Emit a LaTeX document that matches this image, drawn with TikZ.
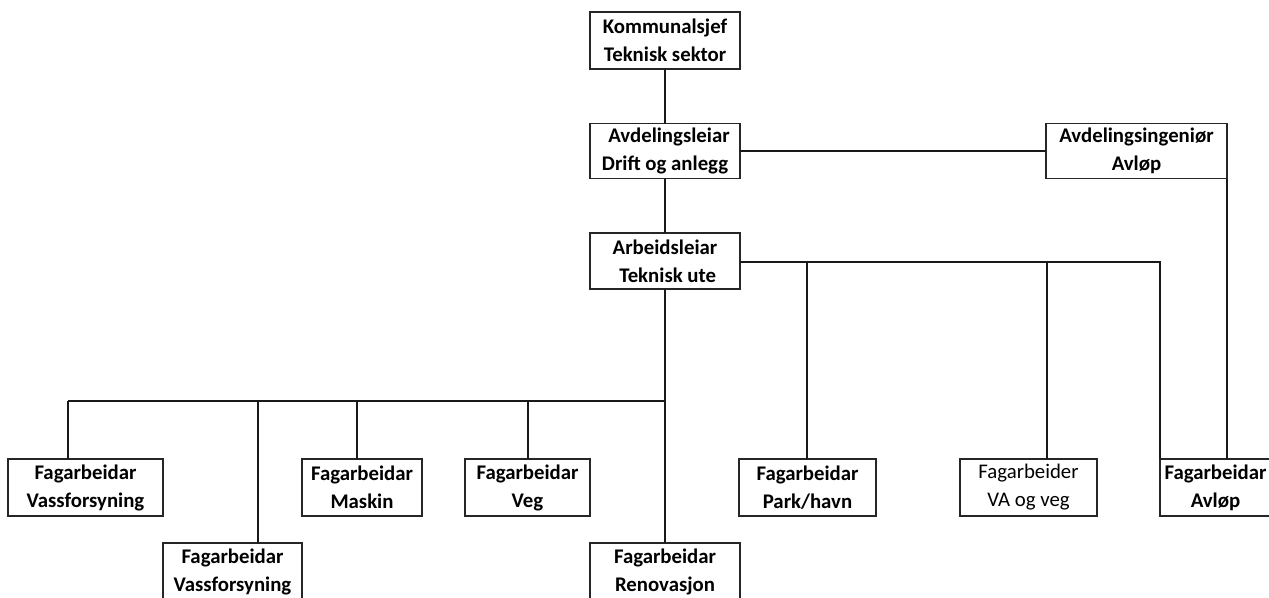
\documentclass[tikz,border=0pt]{standalone}
\usepackage{fontspec}
\setmainfont{Carlito}
\begin{document}
\begin{tikzpicture}[x=0.75pt,y=-0.75pt,
  box/.style={draw=black!85,line width=1pt,rectangle,inner sep=0pt,outer sep=0pt,align=center,
    font=\fontsize{15.6}{21}\selectfont\bfseries,text=black},
  conn/.style={draw=black!90,line width=0.8pt}]
\useasboundingbox (0,0) rectangle (1269,597);
\clip (0,0) rectangle (1269,597);
% top chain
\node[box,minimum width=112.5pt,minimum height=42.75pt] (kom) at (665,40.5) {Kommunalsjef\\Teknisk sektor};
\node[box,minimum width=112.5pt,minimum height=41.25pt] (avd) at (665,151) {\hspace*{6pt}Avdelingsleiar\\Drift og anlegg};
\node[box,minimum width=112.5pt,minimum height=42pt] (arb) at (665,261) {Arbeidsleiar\\\hspace*{4pt}Teknisk ute};
\node[box,minimum width=135.75pt,minimum height=41.25pt] (ing) at (1136.5,151) {Avdelingsingeniør\\Avløp};
% bottom row
\node[box,minimum width=116.25pt,minimum height=42.75pt] (v1) at (85.5,487.5) {Fagarbeidar\\Vassforsyning};
\node[box,minimum width=104.25pt,minimum height=42.75pt] (v2) at (232.5,571.5) {Fagarbeidar\\Vassforsyning};
\node[box,minimum width=90pt,minimum height=42.75pt] (mask) at (362,487.5) {Fagarbeidar\\Maskin};
\node[box,minimum width=93.75pt,minimum height=42.75pt] (veg) at (527.5,487.5) {Fagarbeidar\\Veg};
\node[box,minimum width=112.5pt,minimum height=42.75pt] (ren) at (665,571.5) {Fagarbeidar\\Renovasjon};
\node[box,minimum width=102.75pt,minimum height=42.75pt] (park) at (807.5,487.5) {Fagarbeidar\\Park/havn};
\node[box,minimum width=102.75pt,minimum height=42.75pt,font=\fontsize{15.6}{21}\selectfont] (va) at (1028.5,487.5) {Fagarbeider\\VA og veg};
\node[box,minimum width=83.25pt,minimum height=42.75pt] (avl) at (1215.5,487.5) {Fagarbeidar\\Avløp};
% connectors
\draw[conn] (kom.south) -- (avd.north);
\draw[conn] (avd.south) -- (arb.north);
\draw[conn] (avd.east) -- (ing.west);
\draw[conn] (ing.south east) -- (ing.south east |- avl.north);
% right branch
\coordinate (r0) at (1160,262);
\coordinate (rp) at (807,262);
\coordinate (rv) at (1047,262);
\draw[conn] (arb.east |- r0) -- (r0) -- (r0 |- avl.north);
\draw[conn] (rp) -- (rp |- park.north);
\draw[conn] (rv) -- (rv |- va.north);
% left branch
\draw[conn] (arb.south) -- (ren.north);
\coordinate (b0) at (666,401);
\coordinate (b1) at (68,401);
\coordinate (b2) at (258,401);
\coordinate (b3) at (357,401);
\coordinate (b4) at (528,401);
\draw[conn] (b1) -- (b0);
\draw[conn] (b1) -- (b1 |- v1.north);
\draw[conn] (b2) -- (b2 |- v2.north);
\draw[conn] (b3) -- (b3 |- mask.north);
\draw[conn] (b4) -- (b4 |- veg.north);
\end{tikzpicture}
\end{document}
